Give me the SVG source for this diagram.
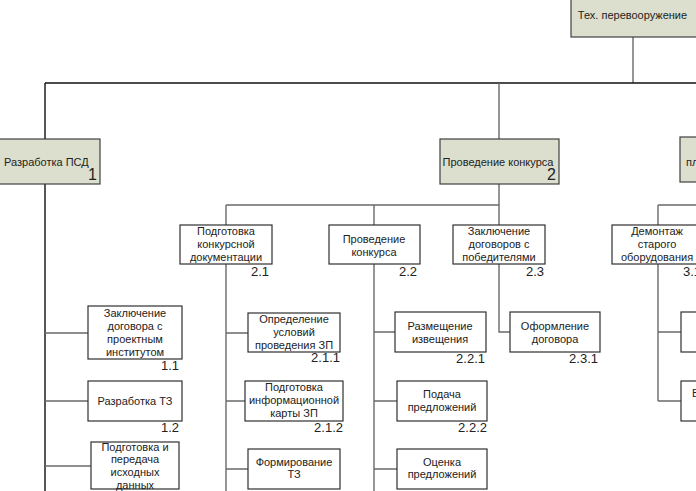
<svg xmlns="http://www.w3.org/2000/svg" width="696" height="491" viewBox="0 0 696 491">
<style>
.top{fill:#dcdfcd;stroke:#404040;stroke-width:1.2}
.box{fill:#ffffff;stroke:#303030;stroke-width:1.2}
.t{font-family:"Liberation Sans",Arial,sans-serif;font-size:11px;fill:#222;text-anchor:middle}
.ts{font-family:"Liberation Sans",Arial,sans-serif;font-size:11px;fill:#222}
.n{font-family:"Liberation Sans",Arial,sans-serif;font-size:13px;fill:#222;text-anchor:end}
.nb{font-family:"Liberation Sans",Arial,sans-serif;font-size:16px;fill:#222;text-anchor:end}
.c{stroke:#6a6a6a;stroke-width:1.4;fill:none}
.k{stroke:#111;stroke-width:1.4;fill:none}
</style>
<rect width="696" height="491" fill="#ffffff"/>
<g id="connectors">
<path class="c" d="M633 37V83"/>
<path class="k" d="M45 83H696M45 83V491"/>
<path class="c" d="M499 83V139M499 184V205M226 205H499"/>
<path class="c" d="M226 205V225M226 264V491"/>
<path class="c" d="M374 205V225M374 264V491"/>
<path class="c" d="M499 205V225M499 264V332H510"/>
<path class="c" d="M658 205H696M658 205V225M658 264V401M658 332H681M658 401H681"/>
<path class="c" d="M45 333H88M45 401H88M45 466H91"/>
<path class="c" d="M226 333H248M226 401H245M226 469H248"/>
<path class="c" d="M374 332H395M374 401H397M374 469H397"/>
</g>
<g id="n0">
<rect class="top" x="571" y="-2" width="130" height="39"/>
<text class="t" x="632.5" y="19">Тех. перевооружение</text>
</g>
<g id="n1">
<rect class="top" x="-2" y="139" width="102" height="45"/>
<text class="ts" x="4" y="166">Разработка ПСД</text>
<text class="nb" x="97" y="180">1</text>
</g>
<g id="n2">
<rect class="top" x="440" y="139" width="119" height="45"/>
<text class="t" x="498" y="166">Проведение конкурса</text>
<text class="nb" x="556" y="180">2</text>
</g>
<g id="n3">
<rect class="top" x="680" y="137" width="40" height="45"/>
<text class="ts" x="686" y="166">пл</text>
</g>
<g id="n21">
<rect class="box" x="180" y="225" width="92" height="39"/>
<text class="t" x="226" y="235">Подготовка</text>
<text class="t" x="226" y="248">конкурсной</text>
<text class="t" x="226" y="261">документации</text>
<text class="n" x="269" y="276">2.1</text>
</g>
<g id="n22">
<rect class="box" x="329" y="225" width="91" height="39"/>
<text class="t" x="374" y="243">Проведение</text>
<text class="t" x="374" y="256">конкурса</text>
<text class="n" x="417" y="276">2.2</text>
</g>
<g id="n23">
<rect class="box" x="453" y="225" width="92" height="39"/>
<text class="t" x="499" y="235">Заключение</text>
<text class="t" x="499" y="248">договоров с</text>
<text class="t" x="499" y="261">победителями</text>
<text class="n" x="544" y="276">2.3</text>
</g>
<g id="n31">
<rect class="box" x="612" y="225" width="90" height="39"/>
<text class="t" x="657" y="235">Демонтаж</text>
<text class="t" x="657" y="248">старого</text>
<text class="t" x="657" y="261">оборудования</text>
<text class="n" x="707" y="276" style="text-anchor:start" dx="-24">3.1</text>
</g>
<g id="n11">
<rect class="box" x="88" y="306" width="94" height="53"/>
<text class="t" x="135" y="317">Заключение</text>
<text class="t" x="135" y="330">договора с</text>
<text class="t" x="135" y="343">проектным</text>
<text class="t" x="135" y="356">институтом</text>
<text class="n" x="179" y="370">1.1</text>
</g>
<g id="n12">
<rect class="box" x="88" y="381" width="94" height="40"/>
<text class="t" x="135" y="405">Разработка ТЗ</text>
<text class="n" x="179" y="432">1.2</text>
</g>
<g id="n13">
<rect class="box" x="91" y="442" width="88" height="47"/>
<text class="t" x="135" y="451">Подготовка и</text>
<text class="t" x="135" y="463">передача</text>
<text class="t" x="135" y="476">исходных</text>
<text class="t" x="135" y="489">данных</text>
<text class="n" x="177" y="500">1.3</text>
</g>
<g id="n211">
<rect class="box" x="248" y="313" width="92" height="39"/>
<text class="t" x="294" y="323">Определение</text>
<text class="t" x="294" y="336">условий</text>
<text class="t" x="294" y="349">проведения ЗП</text>
<text class="n" x="340" y="362">2.1.1</text>
</g>
<g id="n212">
<rect class="box" x="245" y="381" width="98" height="40"/>
<text class="t" x="294" y="391">Подготовка</text>
<text class="t" x="294" y="404">информационной</text>
<text class="t" x="294" y="417">карты ЗП</text>
<text class="n" x="343" y="432">2.1.2</text>
</g>
<g id="n213">
<rect class="box" x="248" y="449" width="92" height="40"/>
<text class="t" x="294" y="466">Формирование</text>
<text class="t" x="294" y="478">ТЗ</text>
<text class="n" x="340" y="500">2.1.3</text>
</g>
<g id="n221">
<rect class="box" x="395" y="312" width="91" height="40"/>
<text class="t" x="440" y="330">Размещение</text>
<text class="t" x="440" y="343">извещения</text>
<text class="n" x="485" y="363">2.2.1</text>
</g>
<g id="n222">
<rect class="box" x="397" y="381" width="90" height="40"/>
<text class="t" x="442" y="398">Подача</text>
<text class="t" x="442" y="411">предложений</text>
<text class="n" x="487" y="432">2.2.2</text>
</g>
<g id="n223">
<rect class="box" x="397" y="449" width="90" height="40"/>
<text class="t" x="442" y="466">Оценка</text>
<text class="t" x="442" y="478">предложений</text>
<text class="n" x="487" y="500">2.2.3</text>
</g>
<g id="n231">
<rect class="box" x="510" y="312" width="90" height="40"/>
<text class="t" x="555" y="330">Оформление</text>
<text class="t" x="555" y="343">договора</text>
<text class="n" x="598" y="363">2.3.1</text>
</g>
<g id="n32">
<rect class="box" x="681" y="312" width="40" height="40"/>
</g>
<g id="n33">
<rect class="box" x="681" y="381" width="40" height="40"/>
<text class="ts" x="692" y="397">В</text>
</g>
</svg>
